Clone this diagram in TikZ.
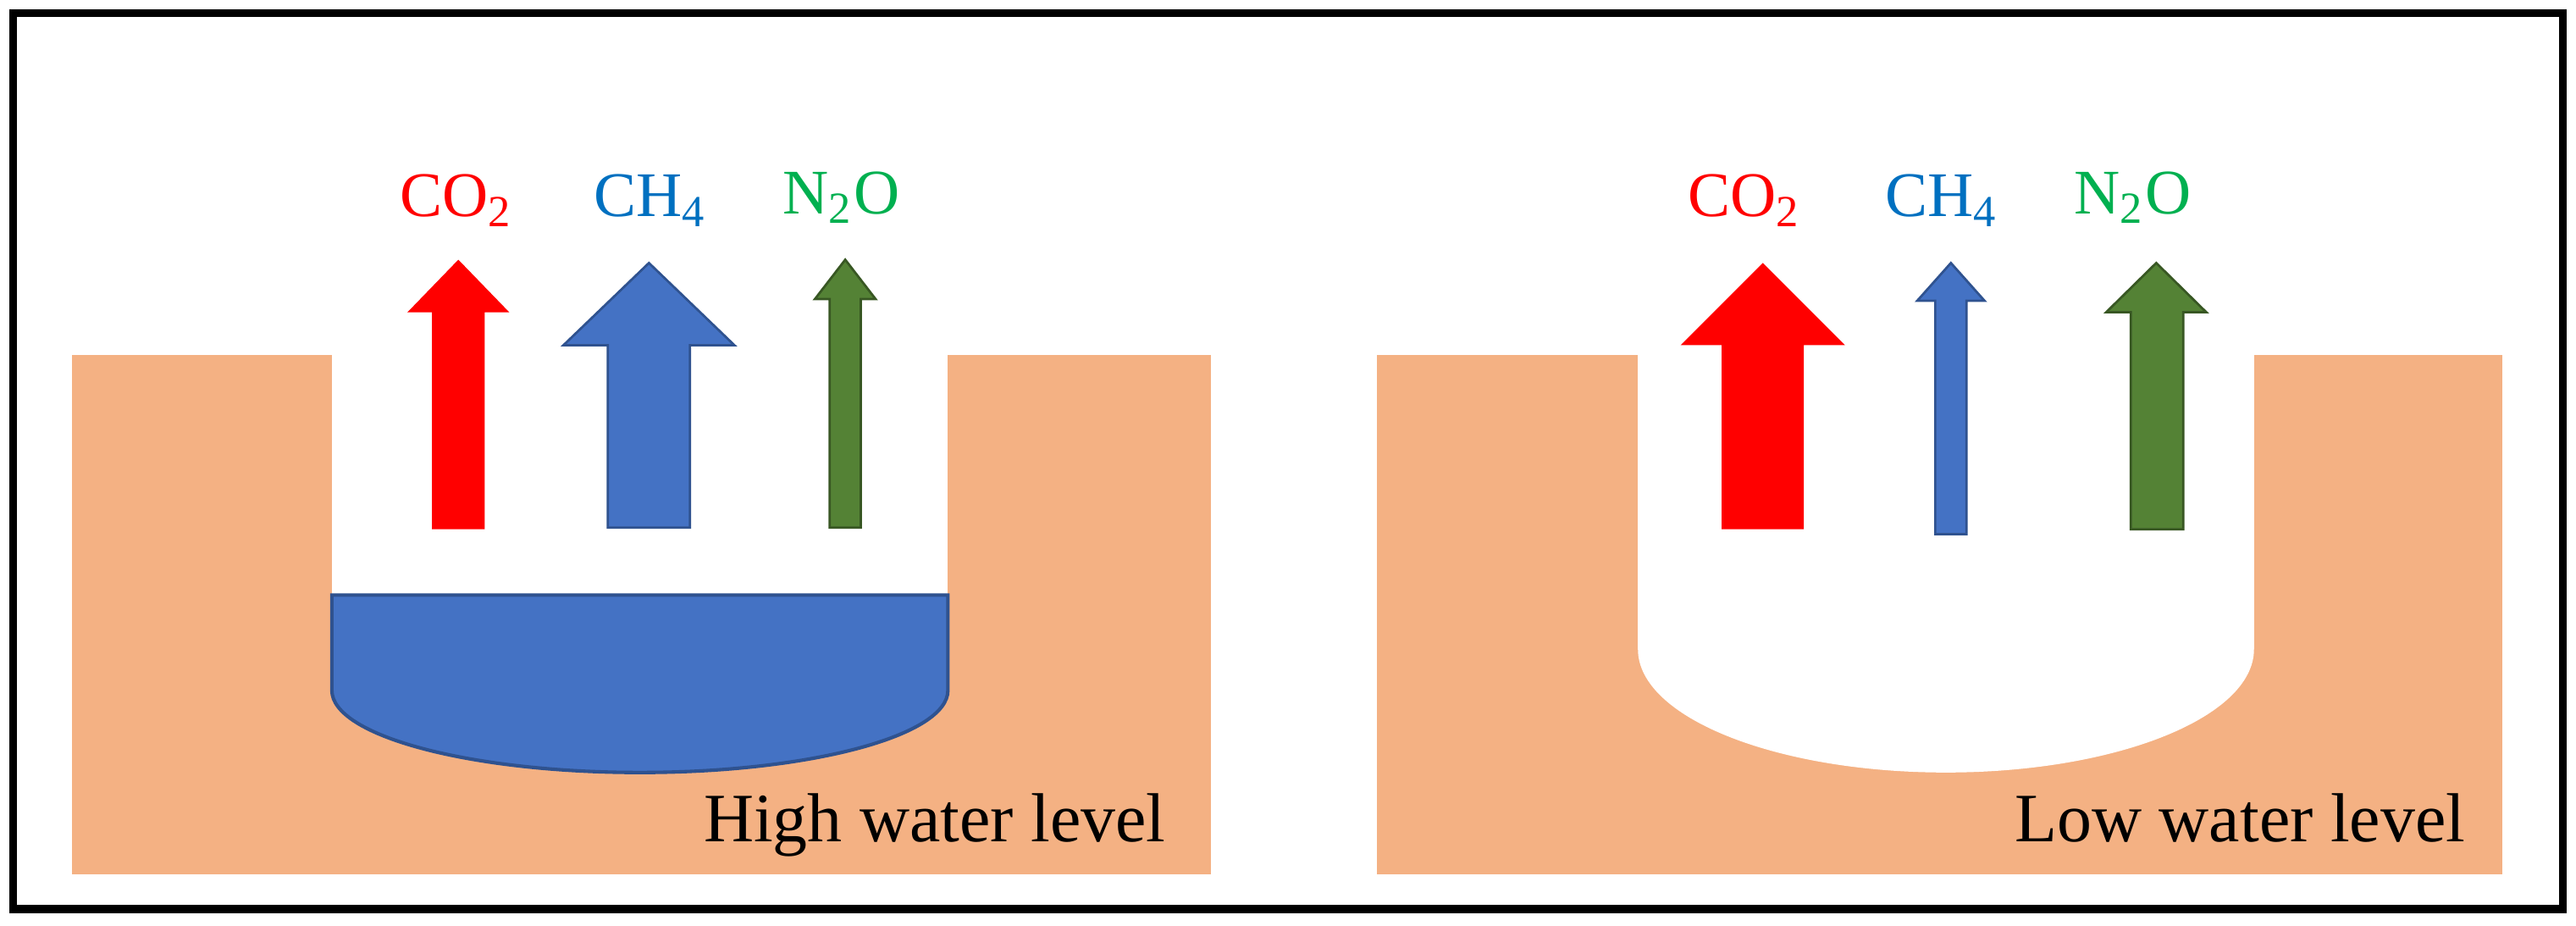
\documentclass[tikz,border=0pt]{standalone}
\usepackage{fontspec}
\setmainfont{Liberation Serif}
\definecolor{soil}{HTML}{F4B183}
\definecolor{water}{HTML}{4472C4}
\definecolor{waterline}{HTML}{2F528F}
\definecolor{nogreen}{HTML}{548235}
\definecolor{nogreenline}{HTML}{385723}
\definecolor{chtext}{HTML}{0070C0}
\definecolor{notext}{HTML}{00B050}
% block arrow: shaft left, shaft right, bottom, head base, tip, head left, head right
\newcommand\gasarrow[8]{%
  \fill[#8] (#1,563-#3) -- (#1,563-#4) -- (#6,563-#4) -- ({(#6+#7)/2},563-#5)
    -- (#7,563-#4) -- (#2,563-#4) -- (#2,563-#3) -- cycle;}
\tikzset{gaslabel/.style={font=\fontsize{11}{13}\selectfont, anchor=center},
  levellabel/.style={font=\fontsize{12}{14}\selectfont, anchor=base east}}
\begin{document}
\begin{tikzpicture}[x=0.01cm,y=0.01cm]
      \useasboundingbox (0,0) rectangle (1568,563);
      \draw[line width=1.4pt] (8,10) rectangle (1560,555);

      % left panel, high water level
      \fill[soil] (44,563-532) rectangle (737,563-216);
      \fill[white] (202,563-216) rectangle (577,563-420);
      \fill[white] (389,563-420) ellipse (187.5 and 50);
      \filldraw[fill=water,draw=waterline,line width=0.6pt]
        (202,563-362) -- (577,563-362) -- (577,563-420)
        arc[start angle=0,end angle=-180,x radius=187.5,y radius=50] -- cycle;
      \node[levellabel] (highlbl) at (722,563-512) {High water level};

      \gasarrow{263}{295}{322}{190}{158}{248}{310}{red}
      \gasarrow{370}{420}{321}{210}{160}{343}{447}{water,draw=waterline}
      \gasarrow{505}{524}{321}{182}{158}{496}{533}{nogreen,draw=nogreenline}
      \node[gaslabel,text=red] (co2a) at (278,563-122) {CO\textsubscript{2}};
      \node[gaslabel,text=chtext] (ch4a) at (396,563-122) {CH\textsubscript{4}};
      \node[gaslabel,text=notext] (n2oa) at (512,563-120) {N\textsubscript{2}O};

      % right panel, low water level
      \fill[soil] (838,563-532) rectangle (1523,563-216);
      \fill[white] (997,563-216) rectangle (1372,563-395);
      \fill[white] (1184.5,563-395) ellipse (187.5 and 75);
      \node[levellabel] (lowlbl) at (1513,563-512) {Low water level};

      \gasarrow{1048}{1098}{322}{210}{160}{1023}{1123}{red}
      \gasarrow{1178}{1197}{325}{183}{160}{1167}{1208}{water,draw=waterline}
      \gasarrow{1297}{1329}{322}{190}{160}{1282}{1343}{nogreen,draw=nogreenline}
      \node[gaslabel,text=red] (co2b) at (1062,563-122) {CO\textsubscript{2}};
      \node[gaslabel,text=chtext] (ch4b) at (1182,563-122) {CH\textsubscript{4}};
      \node[gaslabel,text=notext] (n2ob) at (1298,563-120) {N\textsubscript{2}O};
\end{tikzpicture}
\end{document}
